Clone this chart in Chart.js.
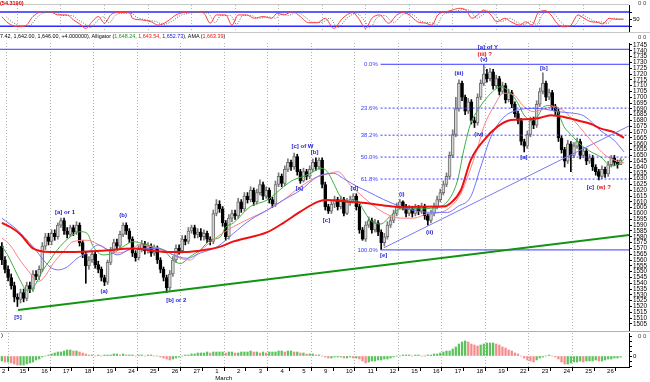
<!DOCTYPE html>
<html><head><meta charset="utf-8">
<script src="https://cdn.jsdelivr.net/npm/chart.js@4"></script>
<style>
html,body{margin:0;padding:0;background:#fff;}
#wrap{position:relative;width:650px;height:382px;overflow:hidden;font-family:"Liberation Sans",Arial,sans-serif;background:#fff;}
canvas{position:absolute;left:0;top:0;}
.t{position:absolute;white-space:nowrap;line-height:1;}
.hl{position:absolute;height:1px;left:0;}
</style></head><body>
<div id="wrap">
<div class="hl" style="top:4px;width:629px;background:#c8c8c8"></div>
<div class="hl" style="top:32px;width:650px;background:#c8c8c8"></div>
<div class="hl" style="top:331px;width:650px;background:#b0b0b0"></div>
<canvas id="cOsc" width="650" height="382"></canvas>
<canvas id="cMain" width="650" height="382"></canvas>
<canvas id="cHist" width="650" height="382"></canvas>
<div class="t" style="left:0;top:1px;font-size:5.5px;font-weight:bold;color:#e00000">(54.3190)</div>
<div class="t" style="left:0;top:34px;font-size:5.4px;color:#000">7.42, 1,642.00, 1,646.00, +4.000000), Alligator (<span style="color:#119911">1,648.24</span>, <span style="color:#ee1111">1,643.54</span>, <span style="color:#1111ee">1,652.73</span>), AMA (<span style="color:#ee1111">1,663.39</span>)</div>
<div class="t" style="left:1px;top:332px;font-size:6px;color:#000">)</div>
<div class="t" style="left:638px;top:0px;font-size:6px;color:#444">0 0</div>
<div class="t" style="left:638px;top:34px;font-size:6px;color:#444">0 0</div>
<div class="t" style="left:638px;top:333px;font-size:6px;color:#444">0 0</div>
</div>
<script>
const FONT = '"Liberation Sans", Arial, sans-serif';
Chart.defaults.font.family = FONT;
Chart.defaults.color = '#000';

// ---- DATA ----
const dayLabels = ['15','16','17','18','19','24','25','26','27','1','2','3','4','5','9','10','11','12','15','16','17','18','19','22','23','24','25','26'];
const tickBars = [5,12,19,26,33,40,47,54,61,68,75,82,89,96,103,110,117,124,131,138,145,152,159,166,173,180,187,194];
const monthLabels = {68:'March'};
const firstLabel = '2';

const openP = [1572,1560,1552,1545,1538,1528,1526,1532,1527,1538,
1535,1548,1546,1552,1572,1580,1576,1583,1580,1590,
1594,1585,1582,1588,1584,1590,1575,1565,1555,1560,
1565,1556,1552,1545,1541,1558,1568,1575,1572,1582,
1590,1585,1578,1566,1562,1570,1574,1568,1572,1566,
1570,1560,1552,1545,1536,1548,1560,1570,1568,1578,
1576,1585,1588,1582,1584,1580,1583,1578,1576,1600,
1608,1604,1592,1580,1596,1600,1598,1610,1604,1615,
1612,1620,1610,1618,1625,1615,1620,1612,1608,1625,
1632,1626,1638,1644,1640,1649,1636,1628,1636,1632,
1638,1644,1640,1646,1625,1606,1602,1608,1612,1606,
1612,1600,1610,1612,1615,1606,1586,1578,1590,1594,
1586,1592,1584,1575,1580,1590,1594,1600,1606,1610,
1606,1600,1604,1600,1605,1602,1606,1598,1594,1600,
1606,1612,1618,1625,1632,1650,1668,1690,1712,1700,
1688,1696,1680,1678,1700,1712,1720,1716,1722,1710,
1716,1705,1710,1698,1704,1694,1686,1680,1662,1658,
1668,1680,1676,1694,1705,1712,1700,1704,1692,1688,
1665,1655,1645,1660,1650,1658,1662,1650,1654,1645,
1648,1640,1636,1632,1638,1634,1642,1648,1644,1642];
const highP = [1575,1563,1555,1548,1541,1531,1535,1535,1541,1541,
1551,1551,1555,1575,1583,1583,1586,1586,1592,1596,
1596,1588,1590,1590,1593,1592,1577,1567,1563,1568,
1567,1559,1554,1547,1560,1571,1578,1578,1585,1592,
1592,1587,1580,1568,1573,1577,1576,1575,1574,1573,
1572,1562,1554,1547,1551,1563,1573,1573,1581,1581,
1588,1590,1590,1587,1587,1586,1585,1580,1603,1612,
1611,1606,1594,1599,1603,1603,1613,1612,1618,1618,
1623,1622,1621,1629,1627,1623,1622,1614,1628,1635,
1634,1641,1647,1646,1652,1651,1638,1639,1638,1641,
1647,1648,1648,1648,1627,1608,1611,1615,1614,1615,
1614,1613,1615,1617,1617,1608,1588,1593,1597,1596,
1595,1594,1586,1583,1593,1597,1603,1609,1612,1611,
1608,1607,1606,1608,1607,1609,1608,1600,1603,1609,
1615,1621,1628,1635,1653,1672,1700,1715,1714,1702,
1699,1698,1683,1703,1715,1728,1724,1725,1724,1719,
1718,1713,1712,1707,1706,1696,1688,1682,1664,1671,
1683,1683,1697,1708,1721,1714,1707,1706,1694,1690,
1667,1657,1663,1662,1661,1665,1664,1657,1656,1651,
1650,1642,1638,1641,1640,1645,1650,1650,1646,1647.42];
const lowP = [1556,1549,1542,1535,1524,1520,1523,1524,1525,1532,
1533,1543,1543,1550,1569,1573,1573,1577,1578,1588,
1582,1579,1580,1581,1582,1572,1562,1540,1552,1558,
1553,1549,1542,1538,1539,1556,1566,1569,1570,1580,
1582,1575,1563,1559,1560,1567,1565,1566,1563,1564,
1557,1549,1542,1532,1534,1546,1558,1565,1566,1573,
1574,1583,1579,1579,1577,1577,1575,1573,1574,1598,
1601,1589,1577,1578,1593,1595,1596,1601,1602,1609,
1610,1607,1608,1616,1612,1613,1609,1605,1606,1623,
1623,1624,1636,1637,1638,1633,1626,1627,1629,1630,
1636,1637,1638,1622,1603,1600,1600,1605,1603,1604,
1598,1599,1607,1610,1603,1583,1577,1576,1588,1583,
1584,1581,1569,1572,1578,1588,1592,1598,1604,1603,
1597,1598,1597,1598,1599,1600,1595,1590,1592,1598,
1604,1610,1616,1623,1630,1648,1666,1688,1697,1685,
1686,1677,1674,1676,1698,1710,1713,1714,1707,1708,
1702,1703,1695,1696,1691,1683,1677,1659,1653,1656,
1666,1673,1674,1692,1703,1697,1698,1689,1685,1662,
1652,1640,1643,1636,1648,1656,1647,1648,1642,1643,
1637,1633,1629,1630,1631,1632,1640,1641,1639,1642];
const closeP = [1560,1552,1545,1538,1528,1526,1532,1527,1538,1535,
1548,1546,1552,1572,1580,1576,1583,1580,1590,1594,
1585,1582,1588,1584,1590,1575,1565,1555,1560,1565,
1556,1552,1545,1541,1558,1568,1575,1572,1582,1590,
1585,1578,1566,1562,1570,1574,1568,1572,1566,1570,
1560,1552,1545,1536,1548,1560,1570,1568,1578,1576,
1585,1588,1582,1584,1580,1583,1578,1576,1600,1608,
1604,1592,1580,1596,1600,1598,1610,1604,1615,1612,
1620,1610,1618,1625,1615,1620,1612,1608,1625,1632,
1626,1638,1644,1640,1649,1636,1628,1636,1632,1638,
1644,1640,1646,1625,1606,1602,1608,1612,1606,1612,
1600,1610,1612,1615,1606,1586,1578,1590,1594,1586,
1592,1584,1575,1580,1590,1594,1600,1606,1610,1606,
1600,1604,1600,1605,1602,1606,1598,1594,1600,1606,
1612,1618,1625,1632,1650,1668,1690,1712,1700,1688,
1696,1680,1678,1700,1712,1720,1716,1722,1710,1716,
1705,1710,1698,1704,1694,1686,1680,1662,1658,1668,
1680,1676,1694,1705,1712,1700,1704,1692,1688,1665,
1655,1645,1660,1650,1658,1662,1650,1654,1645,1648,
1640,1636,1632,1638,1634,1642,1648,1644,1642,1646];

// indicator lines: [bar, price]
const amaLine = [[0,1592],[3,1588],[6,1582],[10,1570],[15.5,1567],[22,1567],[31.6,1568],[42.2,1570],[53.2,1567],[59.6,1567],[66,1569],[70.3,1571.5],[74.5,1576],[85.4,1584],[90.6,1592],[96,1601.6],[101.5,1610],[104.1,1611.7],[112.2,1610],[117.6,1608.8],[122.8,1607],[128.3,1605.5],[133.7,1605.9],[142.1,1606],[144.4,1609],[147.6,1620],[150.8,1646],[155,1663],[159.5,1675],[163.7,1680.5],[167.9,1681],[172.4,1682],[176.6,1684.5],[180.8,1683],[185.3,1680],[189.5,1677],[192.7,1673],[196.9,1670],[200.1,1665]];
const jawLine = [[0,1596],[4.9,1586],[10,1571.5],[15.5,1554],[18.1,1551.5],[21,1554],[24.2,1561.5],[27.4,1566],[31,1573],[33.9,1569],[37.1,1564.4],[42.2,1570],[47.7,1570],[51.9,1569],[55.1,1564.4],[59.6,1561.5],[63.8,1566],[69.3,1571.5],[74.5,1583],[79.9,1594.5],[85.4,1603],[90.6,1611.7],[96,1620],[101.5,1631.7],[106.7,1634.6],[109.9,1630],[114.4,1623],[117.6,1619],[122.8,1612],[128.3,1606],[133.7,1602],[138.9,1601],[143.4,1601],[146.6,1606],[150.8,1614.5],[154,1640],[157.3,1666],[161.5,1683],[166,1689],[170.2,1690.5],[174.3,1690],[178.8,1687.6],[183,1686.5],[187.2,1684],[192.7,1671],[196.9,1663],[200.1,1653]];
const teethLine = [[0,1579],[2.6,1573],[5.8,1560],[9.1,1548.6],[11.3,1541.4],[13.3,1544],[16.5,1557],[19.7,1567],[22.9,1575.8],[27.4,1577],[30.6,1574],[33.9,1569],[37.1,1566],[41.3,1569],[44.5,1573],[48.7,1571],[53.2,1567],[57.4,1561.5],[60.6,1560],[63.8,1568],[69.3,1580],[74.5,1588.7],[79.9,1596],[85.4,1603],[90.6,1611.7],[96,1623],[101.5,1631.7],[104.7,1634],[108,1636],[112.2,1624],[116.3,1614],[120.9,1604],[125,1598],[128.3,1596],[132.5,1596],[137,1600],[141.2,1601],[144.4,1606],[147.6,1617],[150.2,1634.6],[153.1,1657.5],[155,1674.7],[158.2,1692],[161.4,1703.5],[164.7,1702],[167.9,1692],[171.1,1687.6],[174.3,1690],[177.6,1692],[180.8,1688],[184,1680],[187.2,1670],[190.4,1660],[193.7,1651],[196.9,1646],[200.1,1643.5]];
const lipsLine = [[0,1572],[1.7,1565],[3.6,1555],[5.8,1543],[8.1,1534],[10,1536],[13.3,1551.5],[15.5,1560],[18.7,1571.5],[22,1580],[25.2,1584.4],[27.4,1583],[29.4,1571.5],[32.6,1564.4],[35.8,1566],[39,1571.5],[42.2,1575.8],[45.5,1574],[48.7,1571.5],[51.9,1568.7],[55.1,1560],[57.4,1557],[60.6,1563],[63.8,1568.7],[67,1577],[70.3,1580],[71.9,1588],[74.5,1592],[79.9,1606],[85.4,1611.7],[90.6,1623],[93.8,1629],[96,1631],[99.3,1634.6],[102.5,1639],[104.7,1636],[106.7,1626],[108.9,1614.5],[111.2,1610],[114.4,1611],[116.3,1603],[118.6,1594],[121.9,1591],[125,1598],[128.3,1604],[131.5,1604],[134.7,1604],[137.9,1604.5],[141.2,1606],[144.4,1614.5],[146.6,1629],[148.6,1655],[150.8,1677.6],[153.1,1689],[157.3,1703.5],[160.5,1709],[163.7,1703.5],[166,1694.8],[167.9,1684.8],[170.2,1680.5],[172.4,1684],[174.3,1692],[176.6,1693],[178.8,1687.6],[180.8,1674.7],[183,1668],[186.3,1659],[189.5,1653],[192.7,1648.5],[195.9,1641],[199.1,1644],[200.1,1647]];

const greenTrend = [[5.2,1517],[201.7,1581.6]];
const blueTrend = [[122.8,1570.4],[201.7,1675.3]];
const topLevel = 1741.3;
const fibLevels = [1728.4,1690.7,1667.4,1648.55,1629.7,1568.7];
const fibNames = ['0.0%','23.6%','38.2%','50.0%','61.8%','100.0%'];
const fibStartBar = 121.8;
const fibLabelBar = 120.9;

const waveLabels = [
 ['[5]',5.2,1511,'b'],['[a] or 1',20.3,1601.3,'b'],['(b)',39,1598.8,'b'],['(a)',32.9,1533,'b'],
 ['[b] or 2',56.1,1525.6,'b'],['[c] of W',96.7,1658.1,'b'],['[a]',95.7,1621.7,'b'],['[b]',100.6,1653,'b'],
 ['[c]',104.4,1594.5,'b'],['[d]',113.4,1622,'b'],['[e]',122.8,1564.4,'b'],['(i)',128.6,1616.8,'b'],
 ['(ii)',137.6,1584.1,'b'],['(iii)',147,1720.9,'b'],['(iv)',153.4,1668.4,'b'],['[a] of Y',156.3,1743.3,'b'],
 ['(iii) ?',155.3,1737,'r'],['(v)',155,1733,'b'],['[a]',167.9,1648.7,'b'],['[b]',174.3,1725.2,'b'],
 ['[c]',189.3,1622.8,'b'],['(w) ?',193.6,1622.8,'r']
];

const oscMain = [[0,60],[2,34],[5,18],[7.5,21],[10,61],[13,82],[15.5,82],[18,68],[21,68],[23,47],[25,30],[27,11],[29,39],[31,61],[33,33],[35,68],[37,78],[40,78],[41,82],[42,54],[45,47],[48,39],[50.3,25],[53,39],[56,68],[58.4,78],[62.5,82],[65,75],[67,33],[69,68],[72,68],[74,25],[76,68],[78.7,68],[81.2,54],[84,61],[86.7,54],[88.6,75],[90.6,68],[93.5,82],[96,61],[98.6,35],[101.5,35],[104,54],[106.7,11],[109.6,54],[112.8,78],[114.7,54],[117,11],[119,54],[121.5,68],[124.4,33],[127,68],[129,78],[131,68],[133.7,39],[136.3,33],[138.3,25],[140.2,68],[143,82],[145,89],[147,96],[149.2,89],[151.2,54],[153,68],[155,89],[157.3,68],[159.2,39],[161.8,54],[163.7,39],[166.6,25],[168.5,39],[170.5,25],[172.4,75],[174.7,86],[176.6,68],[178.5,33],[180.5,18],[182.7,21],[185.3,68],[187.2,54],[189.5,39],[191.4,37],[193.3,30],[195.3,54],[197,50],[200,50]];
const oscSignal = [[1.5,59],[3.5,36],[6.5,21],[9,24],[11.5,60],[14.5,79],[17,79],[19.5,66],[22.5,66],[24.5,47],[26.5,32],[28.5,15],[30.5,40],[32.5,60],[34.5,35],[36.5,66],[38.5,75],[41.5,75],[43.5,57],[46.5,47],[49.5,40],[52,28],[54.5,40],[57.5,66],[60,75],[64,79],[66.5,73],[68.5,35],[70.5,66],[73.5,66],[75.5,28],[77.5,66],[80,66],[82.5,54],[85.5,60],[88,54],[90,73],[92,66],[95,79],[97.5,60],[100,37],[103,37],[105.5,54],[108,15],[111,54],[114,75],[116,54],[118.5,15],[120.5,54],[123,66],[126,35],[128.5,66],[130.5,75],[132.5,66],[135,40],[138,35],[140,28],[141.7,66],[144.5,79],[146.5,85],[148.5,91],[150.7,85],[152.7,54],[154.5,66],[156.5,85],[158.8,66],[160.7,40],[163.3,54],[165.2,40],[168,28],[170,40],[172,28],[174,72],[176.2,82],[178,66],[180,35],[182,21],[184.2,24],[186.8,66],[188.7,54],[191,40],[193,38],[194.8,32],[196.8,54],[198.5,50],[200,50]];
const oscLevels = [80,20];

const histVals = [-5,-6,-6,-7,-8,-9,-9,-9,-8,-7,
-6,-4,-3,-1,0,1,2,3,4,4,
5,6,6,5,5,4,3,2,1,1,
0,1,0,1,1,1,2,2,1,2,
1,1,1,0,1,1,0,1,1,0,
0,-1,-2,-3,-4,-3,-2,-1,0,1,
1,2,2,3,3,3,4,3,4,4,
4,4,3,4,4,3,3,4,4,4,
5,4,4,3,4,3,4,4,4,5,
5,4,5,5,4,4,3,3,2,2,
2,1,1,0,-1,-2,-2,-1,-1,-1,
-2,-2,-1,-2,-2,-3,-5,-7,-6,-5,
-5,-4,-4,-3,-3,-2,-1,0,0,1,
1,1,0,1,1,0,0,1,1,2,
2,3,4,5,5,7,9,12,14,15,
14,12,11,10,11,12,13,13,13,12,
11,9,8,6,5,3,2,0,-2,-4,
-5,-6,-4,-2,-1,0,1,0,-1,-3,
-6,-8,-8,-7,-6,-6,-5,-6,-5,-5,
-5,-4,-5,-5,-4,-3,-3,-2,-2,-1];

const priceTicks = [1505,1510,1515,1520,1525,1530,1535,1540,1545,1550,1555,1560,1565,1570,1575,1580,1585,1590,1595,1600,1605,1610,1615,1620,1625,1630,1635,1640,1645,1650,1655,1660,1665,1670,1675,1680,1685,1690,1695,1700,1705,1710,1715,1720,1725,1730,1735,1740,1745];

// ---- helpers ----
const XMIN = -0.6, XMAX = 201.7;
const toXY = a => a.map(p => ({x:p[0], y:p[1]}));
const hline = v => [{x:XMIN,y:v},{x:XMAX,y:v}];

function mkX(show){
  return {
    type:'linear', min:XMIN, max:XMAX, offset:false,
    afterBuildTicks: s => { s.ticks = (show ? [{value:XMIN}] : []).concat(tickBars.map(v => ({value:v}))); },
    afterFit: s => { s.height = show ? 15 : 0; },
    grid: {
      color: c => (c.tick && tickBars.indexOf(c.tick.value) >= 0 && tickBars.indexOf(c.tick.value) % 2 === 0) ? '#b4b4b4' : 'rgba(0,0,0,0)',
      lineWidth: 1, drawTicks: show, tickLength: 4,
      tickColor: c => (c.tick && c.tick.value < 0) ? 'rgba(0,0,0,0)' : '#000',
      tickBorderDash: [], tickWidth: 1
    },
    border: { display: show, color:'#000', width:1, dash:[1,2] },
    ticks: {
      display: show, autoSkip:false, maxRotation:0, minRotation:0, align:'start', labelOffset:2, padding:-3,
      font:{size:6, family:FONT, lineHeight:1.2}, color:'#000',
      callback: v => {
        if (v < 0) return firstLabel;
        const k = tickBars.indexOf(v);
        const lab = dayLabels[k];
        return monthLabels[v] ? [lab, monthLabels[v]] : lab;
      }
    }
  };
}
function mkY(min, max, ticks, labelFn, fontSize){
  return {
    position:'right', min, max,
    afterBuildTicks: s => { s.ticks = ticks.map(v => ({value:v})); },
    afterFit: s => { s.width = 21; },
    grid: { drawOnChartArea:false, drawTicks:true, tickLength:3, tickColor:'#000' },
    border: { display:true, color:'#000', width:1 },
    ticks: { autoSkip:false, padding:1, font:{size:fontSize, family:FONT}, color:'#000', callback: labelFn }
  };
}
const common = { responsive:false, animation:false, devicePixelRatio:1, events:[],
  plugins:{ legend:{display:false}, tooltip:{enabled:false} } };

// ---- oscillator panel ----
new Chart(document.getElementById('cOsc'), {
  type:'line',
  data:{ datasets:[
    {data:hline(oscLevels[0]), borderColor:'#2a2aff', borderWidth:1.5, pointRadius:0, order:3},
    {data:hline(oscLevels[1]), borderColor:'#2a2aff', borderWidth:1.5, pointRadius:0, order:3},
    {data:toXY(oscSignal), borderColor:'#6a6a6a', borderWidth:1, borderDash:[1,1.5], pointRadius:0, cubicInterpolationMode:'monotone', order:2},
    {data:toXY(oscMain), borderColor:'#ff3a3a', borderWidth:1, pointRadius:0, cubicInterpolationMode:'monotone', order:1}
  ]},
  options:{ ...common, layout:{padding:{top:5,bottom:351,left:0,right:0}},
    scales:{ x:mkX(false), y:mkY(0,110,[20,50,80], v => v===50 ? '50' : '', 6) } }
});

// ---- main price panel ----
const wickData = highP.map((h,i) => ({x:i, y:[lowP[i], h]}));
const bodyData = openP.map((o,i) => ({x:i, y:[o, closeP[i]]}));
const isUp = i => closeP[i] >= openP[i];

const annPlugin = {
  id:'ann',
  afterDatasetsDraw(chart){
    const {ctx, scales:{x, y}} = chart;
    ctx.save();
    ctx.textBaseline = 'middle';
    ctx.font = 'bold 6px ' + FONT;
    waveLabels.forEach(w => {
      ctx.fillStyle = w[3] === 'r' ? '#e01010' : '#1a1ad0';
      ctx.textAlign = 'center';
      ctx.fillText(w[0], x.getPixelForValue(w[1]), y.getPixelForValue(w[2]));
    });
    ctx.font = '6px ' + FONT;
    ctx.fillStyle = '#3a3aff';
    ctx.textAlign = 'right';
    fibLevels.forEach((lv,k) => ctx.fillText(fibNames[k], x.getPixelForValue(fibLabelBar), y.getPixelForValue(lv)));
    ctx.restore();
  }
};

const mainSets = [
  {type:'bar', data:wickData, backgroundColor: wickData.map((d,i) => isUp(i) ? '#7a7a7a' : '#000'), barThickness:1, grouped:false, borderWidth:0, order:10},
  {type:'bar', data:bodyData, backgroundColor: bodyData.map((d,i) => isUp(i) ? '#d6d6d6' : '#000'),
    borderColor: bodyData.map((d,i) => isUp(i) ? '#6e6e6e' : '#000'), borderWidth:1, borderSkipped:false,
    barThickness:3, grouped:false, minBarLength:1, order:9},
  {type:'line', data:toXY(jawLine), borderColor:'#7272ff', borderWidth:1, pointRadius:0, cubicInterpolationMode:'monotone', order:6},
  {type:'line', data:toXY(teethLine), borderColor:'#ff8080', borderWidth:1, pointRadius:0, cubicInterpolationMode:'monotone', order:6},
  {type:'line', data:toXY(lipsLine), borderColor:'#3caf3c', borderWidth:1, pointRadius:0, cubicInterpolationMode:'monotone', order:6},
  {type:'line', data:toXY(amaLine), borderColor:'#ee1111', borderWidth:2, pointRadius:0, cubicInterpolationMode:'monotone', order:5},
  {type:'line', data:toXY(greenTrend), borderColor:'#129412', borderWidth:2, pointRadius:0, order:3},
  {type:'line', data:toXY(blueTrend), borderColor:'#7a7af0', borderWidth:1, pointRadius:0, order:3},
  {type:'line', data:hline(topLevel), borderColor:'#3a3aff', borderWidth:1, pointRadius:0, order:3}
];
fibLevels.forEach((lv,k) => mainSets.push({
  type:'line', data:[{x:fibStartBar,y:lv},{x:XMAX,y:lv}], borderColor:'#3a3aff', borderWidth:1,
  borderDash: (k===0 || k===fibLevels.length-1) ? [] : [2,2], pointRadius:0, order:3
}));

new Chart(document.getElementById('cMain'), {
  type:'bar',
  data:{ datasets: mainSets },
  options:{ ...common, layout:{padding:{top:43,bottom:52,left:0,right:0}},
    scales:{ x:mkX(false), y:mkY(1499.8,1746.7,priceTicks, v => String(v), 6.3) } },
  plugins:[annPlugin]
});

// ---- histogram panel ----
const histData = histVals.map((v,i) => ({x:i, y:v}));
const histColors = histVals.map((v,i) => (i === 0 || v >= histVals[i-1]) ? '#5cc25c' : '#f58a8a');
new Chart(document.getElementById('cHist'), {
  type:'bar',
  data:{ datasets:[{data:histData, backgroundColor:histColors, barThickness:1.6, grouped:false, borderWidth:0}] },
  options:{ ...common, layout:{padding:{top:333,bottom:0,left:0,right:0}},
    scales:{ x:mkX(true), y:mkY(-11,23,[-10,-5,0,5,10,15,20], v => v===0 ? '0' : '', 6) } }
});
</script>
</body></html>
